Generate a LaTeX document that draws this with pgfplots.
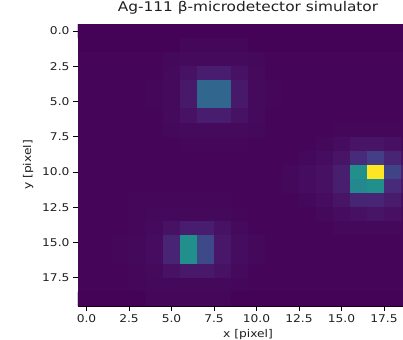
\documentclass[border=0pt]{standalone}
\usepackage{pgfplots}
\pgfplotsset{compat=1.18}
\usepackage{fontspec}
\setmainfont[FakeStretch=1.15]{DejaVu Sans}
\begin{document}
\begin{tikzpicture}
\begin{axis}[
  at={(0,0)}, anchor=south west,
  scale only axis, width=340bp, height=282bp,
  xmin=-0.5, xmax=19.5, ymin=-0.5, ymax=19.5, y dir=reverse,
  xtick={0,2.5,5,7.5,10,12.5,15,17.5},
  ytick={0,2.5,5,7.5,10,12.5,15,17.5},
  xtick pos=bottom, ytick pos=left,
  tick align=outside, major tick length=5bp,
  tick style={black, line width=0.7pt},
  axis line style={black, line width=0.7pt},
  /pgf/number format/.cd, fixed, fixed zerofill, precision=1, assume math mode=true,
  /pgfplots/.cd,
  tick label style={font=\fontsize{10.7}{12}\selectfont, text=black!88},
  label style={font=\fontsize{10.7}{12}\selectfont, text=black!88},
  title style={font=\fontsize{13.4}{15}\selectfont, text=black!88},
  ylabel style={xshift=0bp, yshift=2bp},
  title={Ag-111 β-microdetector simulator},
  xlabel={x [pixel]}, ylabel={y [pixel]},
  colormap name=viridis, point meta min=0, point meta max=1,
  enlargelimits=false,
]
\addplot[matrix plot*, mesh/cols=20, point meta=explicit] table[row sep=\\, meta=c] {
x y c\\
0 0 0.005\\ 1 0 0.005\\ 2 0 0.005\\ 3 0 0.005\\ 4 0 0.005\\ 5 0 0.005\\ 6 0 0.005\\ 7 0 0.005\\ 8 0 0.005\\ 9 0 0.005\\ 10 0 0.005\\ 11 0 0.005\\ 12 0 0.005\\ 13 0 0.005\\ 14 0 0.005\\ 15 0 0.005\\ 16 0 0.005\\ 17 0 0.005\\ 18 0 0.005\\ 19 0 0.005\\
0 1 0.005\\ 1 1 0.005\\ 2 1 0.005\\ 3 1 0.005\\ 4 1 0.005\\ 5 1 0.005\\ 6 1 0.015\\ 7 1 0.015\\ 8 1 0.015\\ 9 1 0.015\\ 10 1 0.005\\ 11 1 0.005\\ 12 1 0.005\\ 13 1 0.005\\ 14 1 0.005\\ 15 1 0.005\\ 16 1 0.005\\ 17 1 0.005\\ 18 1 0.005\\ 19 1 0.005\\
0 2 0.01\\ 1 2 0.01\\ 2 2 0.01\\ 3 2 0.01\\ 4 2 0.01\\ 5 2 0.02\\ 6 2 0.025\\ 7 2 0.025\\ 8 2 0.025\\ 9 2 0.025\\ 10 2 0.02\\ 11 2 0.01\\ 12 2 0.01\\ 13 2 0.01\\ 14 2 0.01\\ 15 2 0.01\\ 16 2 0.01\\ 17 2 0.01\\ 18 2 0.01\\ 19 2 0.01\\
0 3 0.01\\ 1 3 0.01\\ 2 3 0.01\\ 3 3 0.01\\ 4 3 0.01\\ 5 3 0.025\\ 6 3 0.045\\ 7 3 0.075\\ 8 3 0.075\\ 9 3 0.045\\ 10 3 0.025\\ 11 3 0.01\\ 12 3 0.01\\ 13 3 0.01\\ 14 3 0.01\\ 15 3 0.01\\ 16 3 0.01\\ 17 3 0.01\\ 18 3 0.01\\ 19 3 0.01\\
0 4 0.01\\ 1 4 0.01\\ 2 4 0.01\\ 3 4 0.01\\ 4 4 0.015\\ 5 4 0.025\\ 6 4 0.065\\ 7 4 0.33\\ 8 4 0.33\\ 9 4 0.065\\ 10 4 0.025\\ 11 4 0.015\\ 12 4 0.01\\ 13 4 0.01\\ 14 4 0.01\\ 15 4 0.01\\ 16 4 0.01\\ 17 4 0.01\\ 18 4 0.01\\ 19 4 0.01\\
0 5 0.01\\ 1 5 0.01\\ 2 5 0.01\\ 3 5 0.01\\ 4 5 0.015\\ 5 5 0.025\\ 6 5 0.065\\ 7 5 0.33\\ 8 5 0.33\\ 9 5 0.065\\ 10 5 0.025\\ 11 5 0.015\\ 12 5 0.01\\ 13 5 0.01\\ 14 5 0.01\\ 15 5 0.01\\ 16 5 0.01\\ 17 5 0.01\\ 18 5 0.01\\ 19 5 0.01\\
0 6 0.01\\ 1 6 0.01\\ 2 6 0.01\\ 3 6 0.01\\ 4 6 0.01\\ 5 6 0.025\\ 6 6 0.045\\ 7 6 0.075\\ 8 6 0.075\\ 9 6 0.045\\ 10 6 0.025\\ 11 6 0.01\\ 12 6 0.01\\ 13 6 0.01\\ 14 6 0.01\\ 15 6 0.01\\ 16 6 0.01\\ 17 6 0.01\\ 18 6 0.01\\ 19 6 0.01\\
0 7 0.01\\ 1 7 0.01\\ 2 7 0.01\\ 3 7 0.01\\ 4 7 0.01\\ 5 7 0.02\\ 6 7 0.025\\ 7 7 0.025\\ 8 7 0.025\\ 9 7 0.025\\ 10 7 0.02\\ 11 7 0.01\\ 12 7 0.01\\ 13 7 0.01\\ 14 7 0.01\\ 15 7 0.015\\ 16 7 0.015\\ 17 7 0.015\\ 18 7 0.015\\ 19 7 0.01\\
0 8 0.01\\ 1 8 0.01\\ 2 8 0.01\\ 3 8 0.01\\ 4 8 0.01\\ 5 8 0.01\\ 6 8 0.015\\ 7 8 0.015\\ 8 8 0.015\\ 9 8 0.015\\ 10 8 0.01\\ 11 8 0.01\\ 12 8 0.01\\ 13 8 0.01\\ 14 8 0.02\\ 15 8 0.03\\ 16 8 0.05\\ 17 8 0.05\\ 18 8 0.04\\ 19 8 0.02\\
0 9 0.01\\ 1 9 0.01\\ 2 9 0.01\\ 3 9 0.01\\ 4 9 0.01\\ 5 9 0.01\\ 6 9 0.01\\ 7 9 0.01\\ 8 9 0.01\\ 9 9 0.01\\ 10 9 0.01\\ 11 9 0.01\\ 12 9 0.01\\ 13 9 0.02\\ 14 9 0.03\\ 15 9 0.05\\ 16 9 0.12\\ 17 9 0.18\\ 18 9 0.1\\ 19 9 0.04\\
0 10 0.01\\ 1 10 0.01\\ 2 10 0.01\\ 3 10 0.01\\ 4 10 0.01\\ 5 10 0.01\\ 6 10 0.01\\ 7 10 0.01\\ 8 10 0.01\\ 9 10 0.01\\ 10 10 0.01\\ 11 10 0.01\\ 12 10 0.02\\ 13 10 0.03\\ 14 10 0.04\\ 15 10 0.08\\ 16 10 0.5\\ 17 10 1.0\\ 18 10 0.2\\ 19 10 0.08\\
0 11 0.01\\ 1 11 0.01\\ 2 11 0.01\\ 3 11 0.01\\ 4 11 0.01\\ 5 11 0.01\\ 6 11 0.01\\ 7 11 0.01\\ 8 11 0.01\\ 9 11 0.01\\ 10 11 0.01\\ 11 11 0.01\\ 12 11 0.02\\ 13 11 0.03\\ 14 11 0.04\\ 15 11 0.08\\ 16 11 0.47\\ 17 11 0.5\\ 18 11 0.12\\ 19 11 0.06\\
0 12 0.01\\ 1 12 0.01\\ 2 12 0.01\\ 3 12 0.015\\ 4 12 0.015\\ 5 12 0.015\\ 6 12 0.015\\ 7 12 0.015\\ 8 12 0.015\\ 9 12 0.01\\ 10 12 0.01\\ 11 12 0.01\\ 12 12 0.01\\ 13 12 0.02\\ 14 12 0.03\\ 15 12 0.05\\ 16 12 0.1\\ 17 12 0.1\\ 18 12 0.07\\ 19 12 0.03\\
0 13 0.01\\ 1 13 0.01\\ 2 13 0.01\\ 3 13 0.015\\ 4 13 0.02\\ 5 13 0.02\\ 6 13 0.02\\ 7 13 0.02\\ 8 13 0.02\\ 9 13 0.015\\ 10 13 0.01\\ 11 13 0.01\\ 12 13 0.01\\ 13 13 0.01\\ 14 13 0.02\\ 15 13 0.03\\ 16 13 0.04\\ 17 13 0.05\\ 18 13 0.04\\ 19 13 0.02\\
0 14 0.01\\ 1 14 0.01\\ 2 14 0.01\\ 3 14 0.015\\ 4 14 0.025\\ 5 14 0.045\\ 6 14 0.075\\ 7 14 0.075\\ 8 14 0.045\\ 9 14 0.025\\ 10 14 0.01\\ 11 14 0.01\\ 12 14 0.01\\ 13 14 0.01\\ 14 14 0.01\\ 15 14 0.02\\ 16 14 0.02\\ 17 14 0.02\\ 18 14 0.02\\ 19 14 0.01\\
0 15 0.01\\ 1 15 0.01\\ 2 15 0.015\\ 3 15 0.02\\ 4 15 0.03\\ 5 15 0.1\\ 6 15 0.5\\ 7 15 0.22\\ 8 15 0.06\\ 9 15 0.03\\ 10 15 0.02\\ 11 15 0.01\\ 12 15 0.01\\ 13 15 0.01\\ 14 15 0.01\\ 15 15 0.01\\ 16 15 0.01\\ 17 15 0.01\\ 18 15 0.01\\ 19 15 0.01\\
0 16 0.01\\ 1 16 0.01\\ 2 16 0.015\\ 3 16 0.02\\ 4 16 0.03\\ 5 16 0.1\\ 6 16 0.5\\ 7 16 0.22\\ 8 16 0.06\\ 9 16 0.03\\ 10 16 0.02\\ 11 16 0.01\\ 12 16 0.01\\ 13 16 0.01\\ 14 16 0.01\\ 15 16 0.01\\ 16 16 0.01\\ 17 16 0.01\\ 18 16 0.01\\ 19 16 0.01\\
0 17 0.01\\ 1 17 0.01\\ 2 17 0.01\\ 3 17 0.015\\ 4 17 0.025\\ 5 17 0.045\\ 6 17 0.065\\ 7 17 0.065\\ 8 17 0.045\\ 9 17 0.025\\ 10 17 0.01\\ 11 17 0.01\\ 12 17 0.01\\ 13 17 0.01\\ 14 17 0.01\\ 15 17 0.01\\ 16 17 0.01\\ 17 17 0.01\\ 18 17 0.01\\ 19 17 0.01\\
0 18 0.01\\ 1 18 0.01\\ 2 18 0.01\\ 3 18 0.015\\ 4 18 0.02\\ 5 18 0.02\\ 6 18 0.02\\ 7 18 0.02\\ 8 18 0.02\\ 9 18 0.015\\ 10 18 0.01\\ 11 18 0.01\\ 12 18 0.01\\ 13 18 0.01\\ 14 18 0.01\\ 15 18 0.01\\ 16 18 0.01\\ 17 18 0.01\\ 18 18 0.01\\ 19 18 0.01\\
0 19 0.005\\ 1 19 0.005\\ 2 19 0.005\\ 3 19 0.005\\ 4 19 0.015\\ 5 19 0.015\\ 6 19 0.015\\ 7 19 0.015\\ 8 19 0.015\\ 9 19 0.005\\ 10 19 0.005\\ 11 19 0.005\\ 12 19 0.005\\ 13 19 0.005\\ 14 19 0.005\\ 15 19 0.005\\ 16 19 0.005\\ 17 19 0.005\\ 18 19 0.005\\ 19 19 0.005\\
};
\end{axis}
\pgfresetboundingbox
\useasboundingbox (-78bp,-34bp) rectangle (325bp,306bp);
\end{tikzpicture}
\end{document}
